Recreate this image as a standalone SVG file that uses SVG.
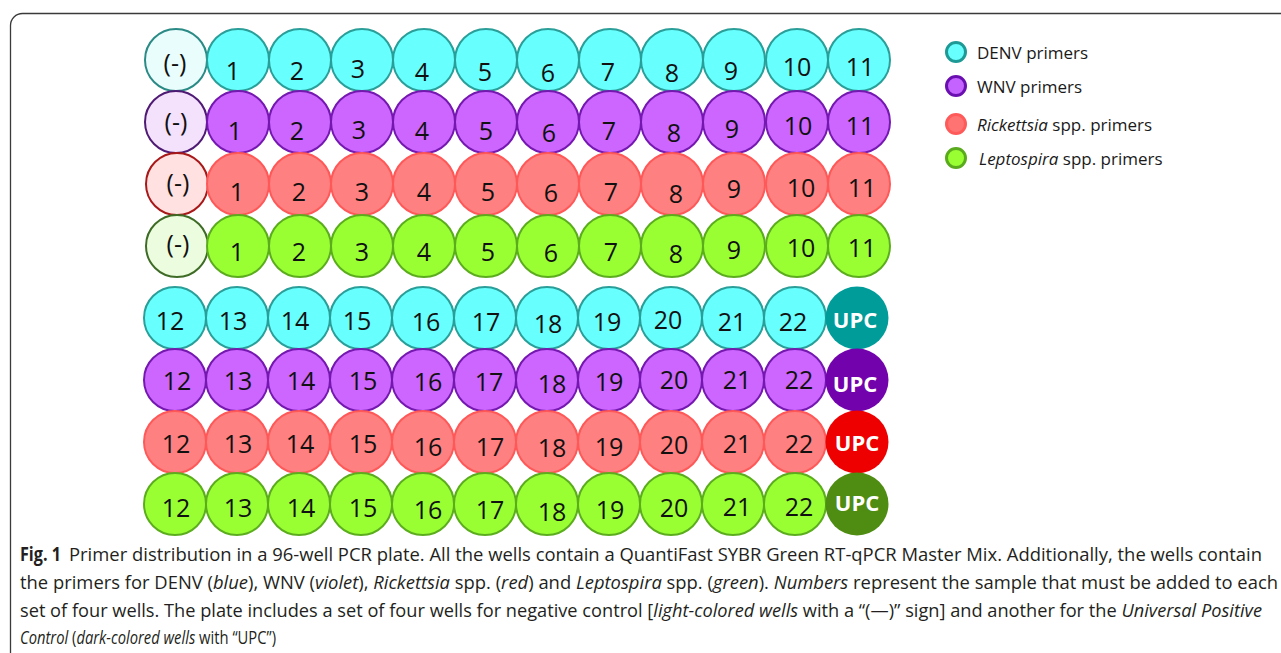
<svg xmlns="http://www.w3.org/2000/svg" width="1281" height="653" viewBox="0 0 1281 653">
<style>
.num{font-family:"Open Sans","Liberation Sans",sans-serif;font-size:25px;fill:#111;text-anchor:middle}
.upc{font-family:"Open Sans","Liberation Sans",sans-serif;font-size:22px;font-weight:bold;fill:#fff;text-anchor:middle}
.denv{fill:#68FFFF;stroke:#2A9E98;stroke-width:2}
.wnv{fill:#CC66FF;stroke:#7418B0;stroke-width:2}
.rick{fill:#FF8080;stroke:#FF5858;stroke-width:2}
.lepto{fill:#99FF33;stroke:#5CAD1E;stroke-width:2}
.ndenv{fill:#EAFDFD;stroke:#2A8A85;stroke-width:2}
.nwnv{fill:#F4E1FC;stroke:#4E1A74;stroke-width:2}
.nrick{fill:#FFE1E1;stroke:#A81818;stroke-width:2}
.nlepto{fill:#ECFCDE;stroke:#3E6C26;stroke-width:2}
.udenv{fill:#009C99}
.uwnv{fill:#7202AC}
.urick{fill:#EE0000}
.ulepto{fill:#4E8C12}
.leg{font-family:"Open Sans","Liberation Sans",sans-serif;font-size:17px;fill:#1a1a1a}
.cap{font-family:"Open Sans","Liberation Sans",sans-serif;font-size:19px;fill:#231f20}
.capb{font-family:"Open Sans","Liberation Sans",sans-serif;font-size:19px;font-weight:bold;fill:#231f20}
.it{font-style:italic}
</style>
<rect x="10.5" y="13.5" width="1300" height="700" rx="12" fill="#fff" stroke="#3a3a3a" stroke-width="1.3"/>
<g id="connectors"></g>
<!-- Row 0 DENV -->
<g id="denv-neg"><circle class="ndenv" cx="176" cy="60" r="31"/><text class="num" x="175" y="72">(-)</text></g>
<g id="denv-1"><circle class="denv" cx="238" cy="60" r="31"/><text class="num" x="233" y="80">1</text></g>
<g id="denv-2"><circle class="denv" cx="300" cy="60" r="31"/><text class="num" x="297" y="80">2</text></g>
<g id="denv-3"><circle class="denv" cx="362" cy="60" r="31"/><text class="num" x="358" y="78">3</text></g>
<g id="denv-4"><circle class="denv" cx="424" cy="60" r="31"/><text class="num" x="422" y="81">4</text></g>
<g id="denv-5"><circle class="denv" cx="486" cy="60" r="31"/><text class="num" x="485" y="81">5</text></g>
<g id="denv-6"><circle class="denv" cx="548" cy="60" r="31"/><text class="num" x="548" y="82">6</text></g>
<g id="denv-7"><circle class="denv" cx="610" cy="60" r="31"/><text class="num" x="608" y="81">7</text></g>
<g id="denv-8"><circle class="denv" cx="672" cy="60" r="31"/><text class="num" x="672" y="82">8</text></g>
<g id="denv-9"><circle class="denv" cx="734" cy="60" r="31"/><text class="num" x="731" y="80">9</text></g>
<g id="denv-10"><circle class="denv" cx="797" cy="60" r="31"/><text class="num" x="797" y="76">10</text></g>
<g id="denv-11"><circle class="denv" cx="859" cy="60" r="31"/><text class="num" x="860" y="76">11</text></g>
<!-- Row 1 WNV -->
<g id="wnv-neg"><circle class="nwnv" cx="176" cy="122" r="31"/><text class="num" x="176" y="131">(-)</text></g>
<g id="wnv-1"><circle class="wnv" cx="238" cy="122" r="31"/><text class="num" x="235" y="140">1</text></g>
<g id="wnv-2"><circle class="wnv" cx="300" cy="122" r="31"/><text class="num" x="297" y="140">2</text></g>
<g id="wnv-3"><circle class="wnv" cx="362" cy="122" r="31"/><text class="num" x="359" y="139">3</text></g>
<g id="wnv-4"><circle class="wnv" cx="424" cy="122" r="31"/><text class="num" x="422" y="140">4</text></g>
<g id="wnv-5"><circle class="wnv" cx="486" cy="122" r="31"/><text class="num" x="486" y="140">5</text></g>
<g id="wnv-6"><circle class="wnv" cx="548" cy="122" r="31"/><text class="num" x="549" y="142">6</text></g>
<g id="wnv-7"><circle class="wnv" cx="610" cy="122" r="31"/><text class="num" x="609" y="140">7</text></g>
<g id="wnv-8"><circle class="wnv" cx="672" cy="122" r="31"/><text class="num" x="674" y="142">8</text></g>
<g id="wnv-9"><circle class="wnv" cx="734" cy="122" r="31"/><text class="num" x="732" y="138">9</text></g>
<g id="wnv-10"><circle class="wnv" cx="797" cy="122" r="31"/><text class="num" x="798" y="135">10</text></g>
<g id="wnv-11"><circle class="wnv" cx="859" cy="122" r="31"/><text class="num" x="860" y="135">11</text></g>
<!-- Row 2 Rickettsia -->
<g id="rick-neg"><circle class="nrick" cx="177" cy="184" r="31"/><text class="num" x="178" y="192">(-)</text></g>
<g id="rick-1"><circle class="rick" cx="238" cy="184" r="31"/><text class="num" x="237" y="201">1</text></g>
<g id="rick-2"><circle class="rick" cx="300" cy="184" r="31"/><text class="num" x="299" y="201">2</text></g>
<g id="rick-3"><circle class="rick" cx="362" cy="184" r="31"/><text class="num" x="362" y="201">3</text></g>
<g id="rick-4"><circle class="rick" cx="424" cy="184" r="31"/><text class="num" x="424" y="201">4</text></g>
<g id="rick-5"><circle class="rick" cx="486" cy="184" r="31"/><text class="num" x="488" y="201">5</text></g>
<g id="rick-6"><circle class="rick" cx="548" cy="184" r="31"/><text class="num" x="551" y="202">6</text></g>
<g id="rick-7"><circle class="rick" cx="610" cy="184" r="31"/><text class="num" x="611" y="201">7</text></g>
<g id="rick-8"><circle class="rick" cx="672" cy="184" r="31"/><text class="num" x="676" y="203">8</text></g>
<g id="rick-9"><circle class="rick" cx="734" cy="184" r="31"/><text class="num" x="734" y="198">9</text></g>
<g id="rick-10"><circle class="rick" cx="797" cy="184" r="31"/><text class="num" x="801" y="197">10</text></g>
<g id="rick-11"><circle class="rick" cx="859" cy="184" r="31"/><text class="num" x="862" y="197">11</text></g>
<!-- Row 3 Leptospira -->
<g id="lepto-neg"><circle class="nlepto" cx="177" cy="246" r="31"/><text class="num" x="178" y="253">(-)</text></g>
<g id="lepto-1"><circle class="lepto" cx="238" cy="246" r="31"/><text class="num" x="237" y="261">1</text></g>
<g id="lepto-2"><circle class="lepto" cx="300" cy="246" r="31"/><text class="num" x="299" y="261">2</text></g>
<g id="lepto-3"><circle class="lepto" cx="362" cy="246" r="31"/><text class="num" x="362" y="261">3</text></g>
<g id="lepto-4"><circle class="lepto" cx="424" cy="246" r="31"/><text class="num" x="424" y="261">4</text></g>
<g id="lepto-5"><circle class="lepto" cx="486" cy="246" r="31"/><text class="num" x="488" y="261">5</text></g>
<g id="lepto-6"><circle class="lepto" cx="548" cy="246" r="31"/><text class="num" x="551" y="262">6</text></g>
<g id="lepto-7"><circle class="lepto" cx="610" cy="246" r="31"/><text class="num" x="611" y="261">7</text></g>
<g id="lepto-8"><circle class="lepto" cx="672" cy="246" r="31"/><text class="num" x="676" y="263">8</text></g>
<g id="lepto-9"><circle class="lepto" cx="734" cy="246" r="31"/><text class="num" x="734" y="259">9</text></g>
<g id="lepto-10"><circle class="lepto" cx="797" cy="246" r="31"/><text class="num" x="801" y="257">10</text></g>
<g id="lepto-11"><circle class="lepto" cx="859" cy="246" r="31"/><text class="num" x="862" y="257">11</text></g>
<!-- Row 4 DENV -->
<g id="denv-12"><circle class="denv" cx="175" cy="318" r="31"/><text class="num" x="170" y="330">12</text></g>
<g id="denv-13"><circle class="denv" cx="237" cy="318" r="31"/><text class="num" x="233" y="330">13</text></g>
<g id="denv-14"><circle class="denv" cx="299" cy="318" r="31"/><text class="num" x="295" y="330">14</text></g>
<g id="denv-15"><circle class="denv" cx="361" cy="318" r="31"/><text class="num" x="357" y="330">15</text></g>
<g id="denv-16"><circle class="denv" cx="423" cy="318" r="31"/><text class="num" x="426" y="331">16</text></g>
<g id="denv-17"><circle class="denv" cx="485" cy="318" r="31"/><text class="num" x="486" y="331">17</text></g>
<g id="denv-18"><circle class="denv" cx="547" cy="318" r="31"/><text class="num" x="548" y="333">18</text></g>
<g id="denv-19"><circle class="denv" cx="609" cy="318" r="31"/><text class="num" x="607" y="331">19</text></g>
<g id="denv-20"><circle class="denv" cx="671" cy="318" r="31"/><text class="num" x="668" y="329">20</text></g>
<g id="denv-21"><circle class="denv" cx="733" cy="318" r="31"/><text class="num" x="732" y="331">21</text></g>
<g id="denv-22"><circle class="denv" cx="795" cy="318" r="31"/><text class="num" x="793" y="331">22</text></g>
<g id="denv-upc"><circle class="udenv" cx="857" cy="318" r="31.5"/><text class="upc" x="855" y="328">UPC</text></g>
<!-- Row 5 WNV -->
<g id="wnv-12"><circle class="wnv" cx="175" cy="380" r="31"/><text class="num" x="177" y="390">12</text></g>
<g id="wnv-13"><circle class="wnv" cx="237" cy="380" r="31"/><text class="num" x="238" y="390">13</text></g>
<g id="wnv-14"><circle class="wnv" cx="299" cy="380" r="31"/><text class="num" x="301" y="390">14</text></g>
<g id="wnv-15"><circle class="wnv" cx="361" cy="380" r="31"/><text class="num" x="363" y="390">15</text></g>
<g id="wnv-16"><circle class="wnv" cx="423" cy="380" r="31"/><text class="num" x="428" y="391">16</text></g>
<g id="wnv-17"><circle class="wnv" cx="485" cy="380" r="31"/><text class="num" x="489" y="391">17</text></g>
<g id="wnv-18"><circle class="wnv" cx="547" cy="380" r="31"/><text class="num" x="552" y="393">18</text></g>
<g id="wnv-19"><circle class="wnv" cx="609" cy="380" r="31"/><text class="num" x="609" y="391">19</text></g>
<g id="wnv-20"><circle class="wnv" cx="671" cy="380" r="31"/><text class="num" x="674" y="389">20</text></g>
<g id="wnv-21"><circle class="wnv" cx="733" cy="380" r="31"/><text class="num" x="737" y="389">21</text></g>
<g id="wnv-22"><circle class="wnv" cx="795" cy="380" r="31"/><text class="num" x="799" y="389">22</text></g>
<g id="wnv-upc"><circle class="uwnv" cx="857" cy="380" r="31.5"/><text class="upc" x="855" y="392">UPC</text></g>
<!-- Row 6 Rickettsia -->
<g id="rick-12"><circle class="rick" cx="175" cy="442" r="31"/><text class="num" x="176" y="453">12</text></g>
<g id="rick-13"><circle class="rick" cx="237" cy="442" r="31"/><text class="num" x="238" y="453">13</text></g>
<g id="rick-14"><circle class="rick" cx="299" cy="442" r="31"/><text class="num" x="300" y="453">14</text></g>
<g id="rick-15"><circle class="rick" cx="361" cy="442" r="31"/><text class="num" x="363" y="453">15</text></g>
<g id="rick-16"><circle class="rick" cx="423" cy="442" r="31"/><text class="num" x="428" y="456">16</text></g>
<g id="rick-17"><circle class="rick" cx="485" cy="442" r="31"/><text class="num" x="490" y="456">17</text></g>
<g id="rick-18"><circle class="rick" cx="547" cy="442" r="31"/><text class="num" x="552" y="457">18</text></g>
<g id="rick-19"><circle class="rick" cx="609" cy="442" r="31"/><text class="num" x="609" y="456">19</text></g>
<g id="rick-20"><circle class="rick" cx="671" cy="442" r="31"/><text class="num" x="674" y="454">20</text></g>
<g id="rick-21"><circle class="rick" cx="733" cy="442" r="31"/><text class="num" x="737" y="453">21</text></g>
<g id="rick-22"><circle class="rick" cx="795" cy="442" r="31"/><text class="num" x="799" y="453">22</text></g>
<g id="rick-upc"><circle class="urick" cx="857" cy="442" r="31.5"/><text class="upc" x="857" y="451">UPC</text></g>
<!-- Row 7 Leptospira -->
<g id="lepto-12"><circle class="lepto" cx="175" cy="504" r="31"/><text class="num" x="176" y="517">12</text></g>
<g id="lepto-13"><circle class="lepto" cx="237" cy="504" r="31"/><text class="num" x="238" y="517">13</text></g>
<g id="lepto-14"><circle class="lepto" cx="299" cy="504" r="31"/><text class="num" x="301" y="517">14</text></g>
<g id="lepto-15"><circle class="lepto" cx="361" cy="504" r="31"/><text class="num" x="363" y="517">15</text></g>
<g id="lepto-16"><circle class="lepto" cx="423" cy="504" r="31"/><text class="num" x="428" y="519">16</text></g>
<g id="lepto-17"><circle class="lepto" cx="485" cy="504" r="31"/><text class="num" x="490" y="519">17</text></g>
<g id="lepto-18"><circle class="lepto" cx="547" cy="504" r="31"/><text class="num" x="552" y="521">18</text></g>
<g id="lepto-19"><circle class="lepto" cx="609" cy="504" r="31"/><text class="num" x="610" y="519">19</text></g>
<g id="lepto-20"><circle class="lepto" cx="671" cy="504" r="31"/><text class="num" x="674" y="517">20</text></g>
<g id="lepto-21"><circle class="lepto" cx="733" cy="504" r="31"/><text class="num" x="737" y="516">21</text></g>
<g id="lepto-22"><circle class="lepto" cx="795" cy="504" r="31"/><text class="num" x="799" y="516">22</text></g>
<g id="lepto-upc"><circle class="ulepto" cx="857" cy="504" r="31.5"/><text class="upc" x="857" y="511">UPC</text></g>
<!-- Legend -->
<g id="legend-denv"><circle cx="956" cy="52" r="9.5" fill="#68FFFF" stroke="#1E9A96" stroke-width="3"/><text class="leg" x="977" y="59">DENV primers</text></g>
<g id="legend-wnv"><circle cx="956" cy="86" r="9.5" fill="#C463FF" stroke="#6A10B0" stroke-width="3"/><text class="leg" x="977" y="93">WNV primers</text></g>
<g id="legend-rick"><circle cx="956" cy="124" r="9.5" fill="#FF7373" stroke="#FF5A5A" stroke-width="3"/><text class="leg" x="977" y="131"><tspan class="it">Rickettsia</tspan> spp. primers</text></g>
<g id="legend-lepto"><circle cx="956" cy="158" r="9.5" fill="#99FF33" stroke="#5AAA1E" stroke-width="3"/><text class="leg" x="979" y="165"><tspan class="it">Leptospira</tspan> spp. primers</text></g>
<!-- Caption -->
<g id="caption">
<text class="capb" x="20" y="561" textLength="41" lengthAdjust="spacingAndGlyphs">Fig. 1</text>
<text class="cap" x="69" y="561" textLength="1193" lengthAdjust="spacingAndGlyphs">Primer distribution in a 96-well PCR plate. All the wells contain a QuantiFast SYBR Green RT-qPCR Master Mix. Additionally, the wells contain</text>
<text class="cap" x="20" y="589" textLength="1258" lengthAdjust="spacingAndGlyphs">the primers for DENV (<tspan class="it">blue</tspan>), WNV (<tspan class="it">violet</tspan>), <tspan class="it">Rickettsia</tspan> spp. (<tspan class="it">red</tspan>) and <tspan class="it">Leptospira</tspan> spp. (<tspan class="it">green</tspan>). <tspan class="it">Numbers</tspan> represent the sample that must be added to each</text>
<text class="cap" x="20" y="617" textLength="1242" lengthAdjust="spacingAndGlyphs">set of four wells. The plate includes a set of four wells for negative control [<tspan class="it">light-colored wells</tspan> with a “(—)” sign] and another for the <tspan class="it">Universal Positive</tspan></text>
<text class="cap" x="20" y="644" textLength="256" lengthAdjust="spacingAndGlyphs"><tspan class="it">Control</tspan> (<tspan class="it">dark-colored wells</tspan> with “UPC”)</text>
</g>
</svg>
